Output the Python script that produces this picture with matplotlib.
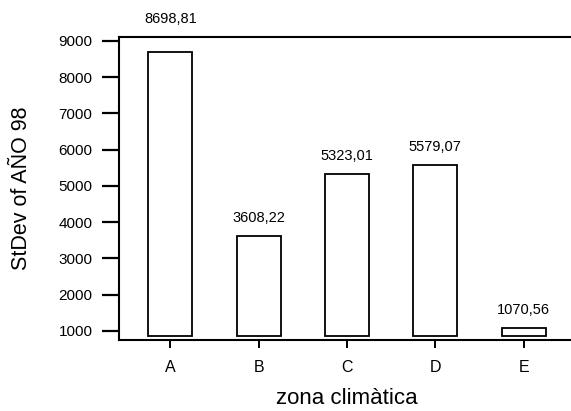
import matplotlib
matplotlib.use("Agg")
import matplotlib.pyplot as plt

zones = ["A", "B", "C", "D", "E"]
stdev = [8698.81, 3608.22, 5323.01, 5579.07, 1070.56]
value_labels = ["8698,81", "3608,22", "5323,01", "5579,07", "1070,56"]
y_ticks = [1000, 2000, 3000, 4000, 5000, 6000, 7000, 8000, 9000]

plt.rcParams["font.family"] = ["Liberation Sans", "DejaVu Sans"]

W, H = 571, 411
fig = plt.figure(figsize=(W / 100, H / 100), dpi=100)
# axes run past the right edge of the figure, so the right side is clipped
ax = fig.add_axes([119 / W, (H - 340) / H, (575 - 119) / W, (340 - 37) / H])

base = 850
y_top = 9110
x = list(range(len(zones)))
heights = [v - base for v in stdev]
ax.bar(x, heights, bottom=base, width=0.5, facecolor="white",
       edgecolor="black", linewidth=1.3)

for xi, v, lab in zip(x, stdev, value_labels):
    # labels that would collide with the top frame go above it
    anchor = v if v < y_top - 1000 else y_top
    ax.annotate(lab, (xi, anchor), xytext=(0, 8), textcoords="offset points",
                ha="center", va="bottom", fontsize=10.5, annotation_clip=False)

ax.set_xlim(-0.58, 4.58)
ax.set_ylim(750, y_top)
ax.set_xticks(x)
ax.set_xticklabels(zones, fontsize=11.5)
ax.set_yticks(y_ticks)
ax.set_yticklabels([str(t) for t in y_ticks], fontsize=11)

ax.tick_params(axis="y", direction="out", length=12, width=1.6, pad=7)
ax.tick_params(axis="x", direction="out", length=6, width=1.4, pad=8.5)

for side in ("left", "bottom", "top"):
    ax.spines[side].set_linewidth(1.5)
ax.spines["right"].set_visible(False)

ax.set_xlabel("zona climàtica", fontsize=16, labelpad=9)
ax.set_ylabel("StDev of AÑO 98", fontsize=15.5, labelpad=19)

fig.savefig("out.png", dpi=100)
